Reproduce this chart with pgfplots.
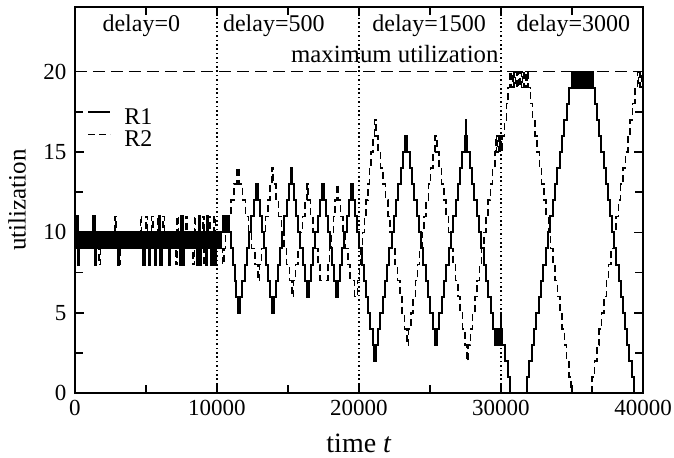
\documentclass[border=0pt]{standalone}
\usepackage{pgfplots}
\pgfplotsset{compat=1.18}
\usepackage{fontspec}
\setmainfont{Liberation Serif}
\begin{document}
\begin{tikzpicture}
\begin{axis}[
  scale only axis, width=284pt, height=193pt,
  xmin=0, xmax=40000, ymin=0, ymax=24,
  xtick={0,10000,20000,30000,40000},
  ytick={0,5,10,15,20},
  minor x tick num=1, minor y tick num=1,
  xtick pos=both, ytick pos=both,
  xticklabel pos=left, yticklabel pos=left,
  tick align=inside,
  major tick length=4.5pt, minor tick length=4pt,
  every tick/.style={black, line width=0.8pt},
  axis line style={line width=1pt},
  scaled x ticks=false,
  /pgf/number format/assume math mode=true,
  /pgf/number format/1000 sep={},
  tick label style={font=\fontsize{11.5}{12}\selectfont},
  yticklabel style={xshift=-0.8pt},
  xlabel={time \textit{t}},
  ylabel={utilization},
  xlabel style={font=\fontsize{14}{15}\selectfont, at={(axis description cs:0.5,0)}, anchor=south, inner sep=0pt, yshift=-30pt},
  ylabel style={font=\fontsize{12.5}{13}\selectfont, at={(axis description cs:-0.118,0.5)}, anchor=north, inner sep=0pt},
  legend style={at={(axis cs:850,17.7)}, anchor=north west, draw=none, fill=none,
    font=\fontsize{12}{13}\selectfont, inner sep=0pt, row sep=3pt, column sep=6.5pt,
    nodes={inner sep=0pt, text height=8pt, text depth=0pt}},
  legend cell align=left,
  legend image code/.code={\draw[#1] (0pt,2.3pt) -- (11pt,2.3pt);},
]
% reference lines
\addplot[forget plot, black, line width=0.9pt, dash pattern=on 6pt off 3pt] coordinates {(0,20)(40000,20)};
\addplot[forget plot, black, line width=0.8pt, dash pattern=on 0.8pt off 1.4pt] coordinates {(10000,0)(10000,24)};
\addplot[forget plot, black, line width=0.8pt, dash pattern=on 0.8pt off 1.4pt] coordinates {(20000,0)(20000,24)};
\addplot[forget plot, black, line width=0.8pt, dash pattern=on 0.8pt off 1.4pt] coordinates {(30000,0)(30000,24)};
% R1
\addplot[const plot, black, line width=1pt] coordinates {
(0,9)(100,11)(200,8)(300,10)(400,9)(500,10)(600,9)(700,10)(800,9)(900,10)
(1000,9)(1100,10)(1200,9)(1300,11)(1400,8)(1500,10)(1600,9)(1700,10)(1800,9)(1900,10)
(2000,9)(2100,10)(2200,9)(2300,10)(2400,9)(2500,10)(2600,9)(2700,10)(2800,9)(2900,10)
(3000,8)(3100,10)(3200,9)(3300,10)(3400,9)(3500,10)(3600,9)(3700,10)(3800,9)(3900,10)
(4000,9)(4100,10)(4200,9)(4300,10)(4400,9)(4500,10)(4600,9)(4700,10)(4800,8)(4900,10)
(5000,9)(5100,10)(5200,8)(5300,10)(5400,9)(5500,10)(5600,8)(5700,10)(5800,9)(5900,11)
(6000,8)(6100,10)(6200,9)(6300,10)(6400,9)(6500,10)(6600,8)(6700,10)(6800,9)(6900,10)
(7000,9)(7100,10)(7200,9)(7300,10)(7400,8)(7500,11)(7600,8)(7700,10)(7800,9)(7900,10)
(8000,9)(8100,10)(8200,9)(8300,10)(8400,9)(8500,10)(8600,8)(8700,11)(8800,8)(8900,10)
(9000,9)(9100,10)(9200,8)(9300,11)(9400,9)(9500,10)(9600,8)(9700,10)(9800,8)(9900,10)
(10000,9)(10100,10)(10200,9)
(10300,10)(10400,11)(10500,10)(10600,11)(10700,10)(10800,11)
(10850,10)(10980,9)(11110,8)(11240,7)(11370,6)(11500,5)
(11620,6)(11780,7)(11940,8)(12100,9)(12260,10)(12420,11)(12580,12)(12740,13)
(12880,12)(13025,11)(13170,10)(13315,9)(13460,8)(13605,7)(13750,6)(13895,5)
(14000,6)(14150,7)(14300,8)(14450,9)(14600,10)(14750,11)(14900,12)(15050,13)(15180,14)
(15260,13)(15415,12)(15570,11)(15725,10)(15880,9)(16035,8)(16190,7)(16345,6)
(16470,7)(16625,8)(16780,9)(16935,10)(17090,11)(17245,12)(17400,13)
(17540,12)(17685,11)(17830,10)(17975,9)(18120,8)(18265,7)(18410,6)
(18520,7)(18670,8)(18820,9)(18970,10)(19120,11)(19270,12)(19420,13)
(19560,12)(19715,11)(19870,10)(20025,9)(20180,8)(20335,7)(20490,6)(20645,5)(20800,4)(20955,3)(21080,2)
(21180,3)(21340,4)(21500,5)(21660,6)(21820,7)(21980,8)(22140,9)(22300,10)(22460,11)(22620,12)(22780,13)(22940,14)(23100,15)(23260,16)
(23400,15)(23563,14)(23726,13)(23889,12)(24052,11)(24215,10)(24378,9)(24541,8)(24704,7)(24867,6)(25030,5)(25193,4)(25356,3)
(25500,4)(25662,5)(25824,6)(25986,7)(26148,8)(26310,9)(26472,10)(26634,11)(26796,12)(26958,13)(27120,14)(27282,15)(27444,16)(27520,17)(27570,16)
(27640,15)(27803,14)(27966,13)(28129,12)(28292,11)(28455,10)(28618,9)(28781,8)(28944,7)(29107,6)(29270,5)(29433,4)(29596,3)
(29650,4)(29700,3)(29750,4)(29800,3)(29850,4)(29900,3)(29950,4)(29980,5)(30020,3)(30050,4)(30100,3)
(30290,2)(30460,1)(30630,0)
(31830,1)(31995,2)(32160,3)(32325,4)(32490,5)(32655,6)(32820,7)(32985,8)(33150,9)(33315,10)
(33480,11)(33645,12)(33810,13)(33975,14)(34140,15)(34305,16)(34470,17)(34635,18)(34800,19)(34965,20)
(35020,19)(35080,20)(35140,19)(35200,20)(35260,19)(35320,20)(35380,19)(35440,20)(35500,19)(35560,20)
(35620,19)(35680,20)(35740,19)(35800,20)(35860,19)(35920,20)(35980,19)(36040,20)(36100,19)(36160,20)
(36220,19)(36280,20)(36340,19)(36400,20)(36460,19)
(36612,18)(36764,17)(36916,16)(37068,15)(37220,14)(37372,13)(37524,12)(37676,11)(37828,10)(37980,9)
(38132,8)(38284,7)(38436,6)(38588,5)(38740,4)(38892,3)(39044,2)(39196,1)(39348,0)(40000,0)
};
\addlegendentry{R1}
% R2
\addplot[const plot, black, line width=0.75pt, dash pattern=on 3.5pt off 2pt] coordinates {
(0,11)(100,9)(200,10)(300,9)(400,10)(500,9)(600,10)(700,9)(800,10)(900,9)
(1000,10)(1100,9)(1200,10)(1300,9)(1400,10)(1500,9)(1600,10)(1700,8)(1800,10)(1900,9)
(2000,10)(2100,9)(2200,10)(2300,9)(2400,10)(2500,9)(2600,10)(2700,9)(2800,11)(2900,9)
(3000,10)(3100,8)(3200,10)(3300,9)(3400,10)(3500,9)(3600,10)(3700,9)(3800,10)(3900,9)
(4000,10)(4100,9)(4200,10)(4300,9)(4400,10)(4500,9)(4600,11)(4700,9)(4800,10)(4900,9)
(5000,11)(5100,9)(5200,10)(5300,9)(5400,11)(5500,9)(5600,10)(5700,9)(5800,11)(5900,9)
(6000,10)(6100,9)(6200,11)(6300,9)(6400,10)(6500,9)(6600,10)(6700,9)(6800,10)(6900,9)
(7000,10)(7100,8)(7200,11)(7300,9)(7400,10)(7500,9)(7600,10)(7700,9)(7800,11)(7900,9)
(8000,10)(8100,9)(8200,10)(8300,8)(8400,11)(8500,9)(8600,10)(8700,9)(8800,10)(8900,9)
(9000,11)(9100,8)(9200,10)(9300,9)(9400,11)(9500,9)(9600,10)(9700,9)(9800,11)(9900,9)
(10000,10)(10100,9)(10200,10)(10300,9)(10400,8)(10500,9)(10600,10)
(10800,11)(11000,12)(11200,13)(11400,14)
(11560,13)(11780,12)(12000,11)(12220,10)(12440,9)(12660,8)(12880,7)
(12980,8)(13130,9)(13280,10)(13430,11)(13580,12)(13730,13)(13880,14)
(13960,13)(14150,12)(14340,11)(14530,10)(14720,9)(14910,8)(15100,7)(15290,6)
(15380,7)(15540,8)(15700,9)(15860,10)(16020,11)(16180,12)(16340,13)
(16420,12)(16590,11)(16760,10)(16930,9)(17100,8)(17270,7)
(17800,8)(17930,9)(18060,10)(18190,11)(18320,12)(18450,13)
(18530,12)(18700,11)(18870,10)(19040,9)(19210,8)(19380,7)(19700,6)
(19900,7)(20020,8)(20140,9)(20260,10)(20380,11)(20500,12)(20620,13)(20740,14)(20860,15)(20980,16)(21100,17)
(21180,16)(21349,15)(21518,14)(21687,13)(21856,12)(22025,11)(22194,10)(22363,9)(22532,8)(22701,7)(22870,6)(23039,5)(23208,4)(23377,3)
(23500,4)(23654,5)(23808,6)(23962,7)(24116,8)(24270,9)(24424,10)(24578,11)(24732,12)(24886,13)(25040,14)(25194,15)(25348,16)
(25480,15)(25644,14)(25808,13)(25972,12)(26136,11)(26300,10)(26464,9)(26628,8)(26792,7)(26956,6)(27120,5)(27284,4)(27448,3)(27612,2)
(27680,3)(27838,4)(27996,5)(28154,6)(28312,7)(28470,8)(28628,9)(28786,10)(28944,11)(29102,12)(29260,13)(29418,14)(29576,15)
(29640,16)(29700,15)(29760,16)(29820,15)(29880,16)(29940,15)(30000,16)(30060,15)(30120,16)
(30250,17)(30380,18)(30510,19)(30630,20)
(30730,19)(30830,20)(30930,19)(31030,20)(31130,19)(31230,20)(31330,19)(31430,20)(31530,19)(31630,20)(31730,19)(31830,20)
(31900,19)(32060,18)(32220,17)(32380,16)(32540,15)(32700,14)(32860,13)(33020,12)(33180,11)(33340,10)
(33500,9)(33660,8)(33820,7)(33980,6)(34140,5)(34300,4)(34460,3)(34620,2)(34780,1)(34940,0)
(36410,1)(36578,2)(36746,3)(36914,4)(37082,5)(37250,6)(37418,7)(37586,8)(37754,9)(37922,10)
(38090,11)(38258,12)(38426,13)(38594,14)(38762,15)(38930,16)(39098,17)(39266,18)(39434,19)(39602,20)
(39700,19)(39800,20)(39900,19)(40000,20)
};
\addlegendentry{R2}
\node[anchor=base, font=\fontsize{12}{13}\selectfont] at (axis cs:4670,22.5) {delay=0};
\node[anchor=base, font=\fontsize{12}{13}\selectfont] at (axis cs:14000,22.5) {delay=500};
\node[anchor=base, font=\fontsize{12}{13}\selectfont] at (axis cs:24940,22.5) {delay=1500};
\node[anchor=base, font=\fontsize{12}{13}\selectfont] at (axis cs:35100,22.5) {delay=3000};
\node[anchor=base, font=\fontsize{12.4}{13}\selectfont] at (axis cs:22520,20.56) {maximum utilization};
\end{axis}
\pgfresetboundingbox
\path ([shift={(-37.5pt,-32pt)}]current axis.south west) rectangle ([shift={(15.5pt,3.6pt)}]current axis.north east);
\end{tikzpicture}
\end{document}
